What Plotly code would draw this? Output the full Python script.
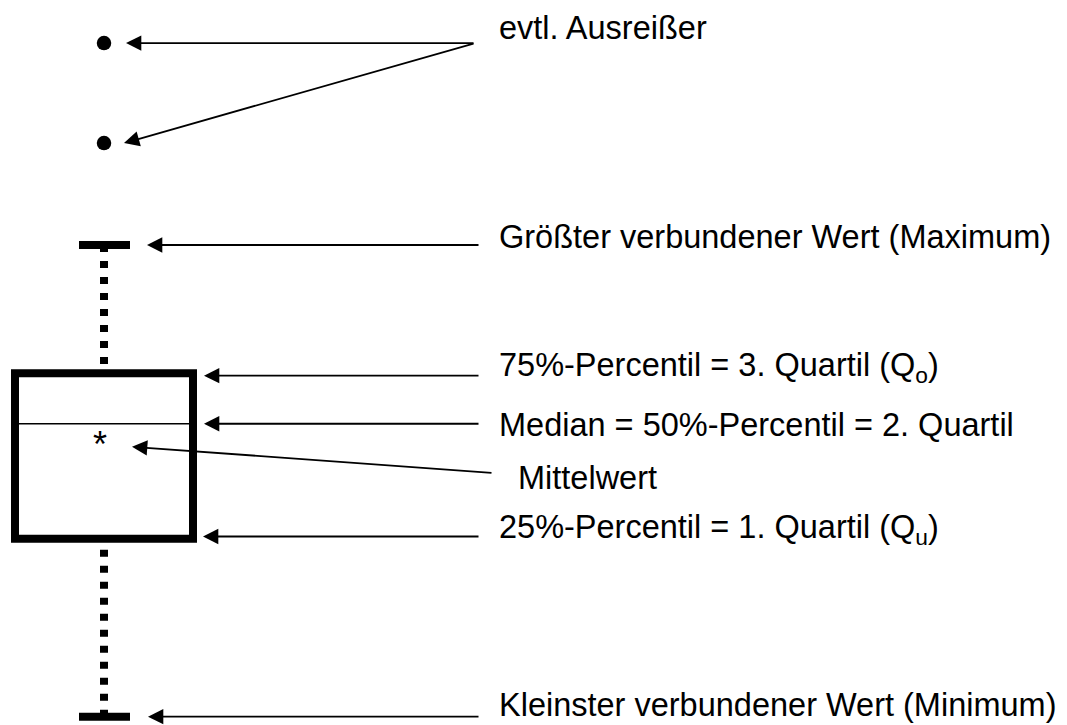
import plotly.graph_objects as go

# ---------------- data (schematic box plot values) ----------------
stat_keys = ["minimum", "q1", "median", "mean", "q3", "maximum"]
stat_values = [0.0, 3.77, 6.21, 5.95, 7.28, 10.0]
outliers = [14.28, 12.16]

label_texts = [
    "evtl. Ausreißer",
    "Größter verbundener Wert (Maximum)",
    "75%-Percentil = 3. Quartil (Q<sub>o</sub>)",
    "Median = 50%-Percentil = 2. Quartil",
    "Mittelwert",
    "25%-Percentil = 1. Quartil (Q<sub>u</sub>)",
    "Kleinster verbundener Wert (Minimum)",
]

stats = dict(zip(stat_keys, stat_values))

# ---------------- layout constants ----------------
W, H = 1067, 725
PX_PER_UNIT = 47.17
ZERO_PX = 716.7          # pixel row of value 0


def val(py):
    """convert a pixel row into a value on the y scale"""
    return (ZERO_PX - py) / PX_PER_UNIT


FONT = "Liberation Sans, Arial, sans-serif"
FS = 32.5
BLACK = "#000000"

box_x0, box_x1 = 15, 193
cx = 104
cap_x0, cap_x1 = 79, 130
dot_x = 104
mean_x = 100

fig = go.Figure()

# whiskers (dotted), drawn from the caps towards the box
fig.add_trace(go.Scatter(
    x=[cx, cx], y=[stats["maximum"], stats["q3"]], mode="lines",
    line=dict(color=BLACK, width=8, dash="7px,9px"), hoverinfo="skip"))
fig.add_trace(go.Scatter(
    x=[cx, cx], y=[stats["minimum"], stats["q1"]], mode="lines",
    line=dict(color=BLACK, width=8, dash="7px,9px"), hoverinfo="skip"))

# outliers
fig.add_trace(go.Scatter(
    x=[dot_x] * len(outliers), y=outliers, mode="markers",
    marker=dict(color=BLACK, size=14.5, line=dict(width=0)), hoverinfo="skip"))

shapes = [
    dict(type="rect", xref="x", yref="y", x0=box_x0, x1=box_x1,
         y0=stats["q1"], y1=stats["q3"], line=dict(color=BLACK, width=8)),
    dict(type="line", xref="x", yref="y", x0=box_x0, x1=box_x1,
         y0=stats["median"], y1=stats["median"], line=dict(color=BLACK, width=1.5)),
    dict(type="line", xref="x", yref="y", x0=cap_x0, x1=cap_x1,
         y0=stats["maximum"], y1=stats["maximum"], line=dict(color=BLACK, width=8)),
    dict(type="line", xref="x", yref="y", x0=cap_x0, x1=cap_x1,
         y0=stats["minimum"], y1=stats["minimum"], line=dict(color=BLACK, width=8)),
]

annotations = []

# mean asterisk
annotations.append(dict(x=mean_x, y=stats["mean"], xref="x", yref="y", text="*",
                        showarrow=False, yshift=-8,
                        font=dict(family=FONT, size=36, color=BLACK)))


def arrow(tip_x, tip_y, tail_x, tail_y):
    return dict(x=tip_x, y=tip_y, ax=tail_x, ay=tail_y, xref="x", yref="y",
                axref="x", ayref="y", text="", showarrow=True, arrowhead=2,
                arrowsize=1.7, arrowwidth=1.8, arrowcolor=BLACK, standoff=0)


tail_x = 480
annotations += [
    arrow(126, outliers[0], 475, outliers[0]),
    arrow(124, outliers[1], 475, outliers[0]),
    arrow(147, stats["maximum"], tail_x, stats["maximum"]),
    arrow(204, stats["q3"] - 0.05, tail_x, stats["q3"] - 0.05),
    arrow(204, stats["median"], tail_x, stats["median"]),
    arrow(132, stats["mean"] + val(446.7) - val(436), 493, val(473)),
    arrow(203, stats["q1"] + 0.05, tail_x, stats["q1"] + 0.05),
    arrow(148, stats["minimum"], tail_x, stats["minimum"]),
]

label_x = [497, 497, 497, 497, 516, 497, 497]
label_py = [28, 237, 367, 425, 478, 529, 705]
for t, lx, py in zip(label_texts, label_x, label_py):
    annotations.append(dict(x=lx, y=val(py), xref="x", yref="y", text=t,
                            showarrow=False, xanchor="left", yanchor="middle",
                            font=dict(family=FONT, size=FS, color=BLACK)))

fig.update_layout(
    width=W, height=H, margin=dict(l=0, r=0, t=0, b=0, pad=0),
    paper_bgcolor="white", plot_bgcolor="white", showlegend=False,
    xaxis=dict(range=[0, W], visible=False, fixedrange=True),
    yaxis=dict(range=[val(H), val(0)], visible=False, fixedrange=True),
    shapes=shapes, annotations=annotations,
)

fig.write_html("out.html", post_script="document.body.style.margin='0';",
               config={"displayModeBar": False})
